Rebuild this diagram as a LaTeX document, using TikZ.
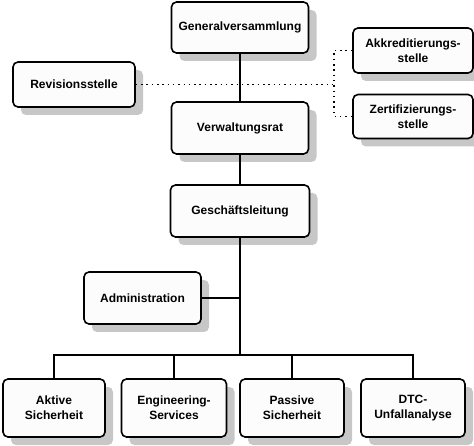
\documentclass[tikz,border=0pt]{standalone}
\usepackage{fontspec}
\setmainfont{Liberation Sans}
\usetikzlibrary{shadows}
\begin{document}
\begin{tikzpicture}[x=1pt,y=-1pt,
  box/.style={draw, line width=1.6pt, rounded corners=5pt, fill=black!1, align=center,
    font=\bfseries\fontsize{12}{15}\selectfont, inner sep=0pt,
    drop shadow={shadow xshift=8pt, shadow yshift=-8pt, fill=black!22, opacity=1}},
  link/.style={line width=1.8pt},
  dots/.style={line width=1.5pt, dash pattern=on 1.5pt off 3.8pt}]
\useasboundingbox (0,0) rectangle (474,446);
\node[box, minimum width=137pt, minimum height=51pt] (gv) at (240,27.5) {Generalversammlung};
\node[box, minimum width=122pt, minimum height=45pt] (rs) at (74,84.5) {Revisionsstelle};
\node[box, minimum width=120pt, minimum height=45pt] (akk) at (413,50.5) {Akkreditierungs-\\stelle};
\node[box, minimum width=120pt, minimum height=44pt] (zert) at (413,116.5) {Zertifizierungs-\\stelle};
\node[box, minimum width=137pt, minimum height=52pt] (vr) at (240,128) {Verwaltungsrat};
\node[box, minimum width=139pt, minimum height=52pt] (gl) at (240,211) {Geschäftsleitung};
\node[box, minimum width=117pt, minimum height=52pt] (adm) at (142.5,298) {Administration};
\node[box, minimum width=102pt, minimum height=58pt] (b1) at (54,408) {Aktive\\Sicherheit};
\node[box, minimum width=105pt, minimum height=58pt] (b2) at (174,408) {Engineering-\\Services};
\node[box, minimum width=104pt, minimum height=58pt] (b3) at (292,408) {Passive\\Sicherheit};
\node[box, minimum width=104pt, minimum height=58pt] (b4) at (413,408) {DTC-\\Unfallanalyse};
\coordinate (bus) at (240,355);
\coordinate (dj) at (334,84);
\draw[link] (gv.south) -- (vr.north);
\draw[link] (vr.south) -- (gl.north);
\draw[link] (gl.south) -- (bus);
\draw[link] (adm.east) -- (adm.east -| bus);
\draw[link] (b1.north) -- (b1.north |- bus) -- (b4.north |- bus) -- (b4.north);
\draw[link] (b2.north) -- (b2.north |- bus);
\draw[link] (b3.north) -- (b3.north |- bus);
\draw[dots] (rs.east) -- (rs.east -| dj);
\draw[dots] (akk.west) -- (akk.west -| dj) -- (zert.west -| dj) -- (zert.west);
\end{tikzpicture}
\end{document}
